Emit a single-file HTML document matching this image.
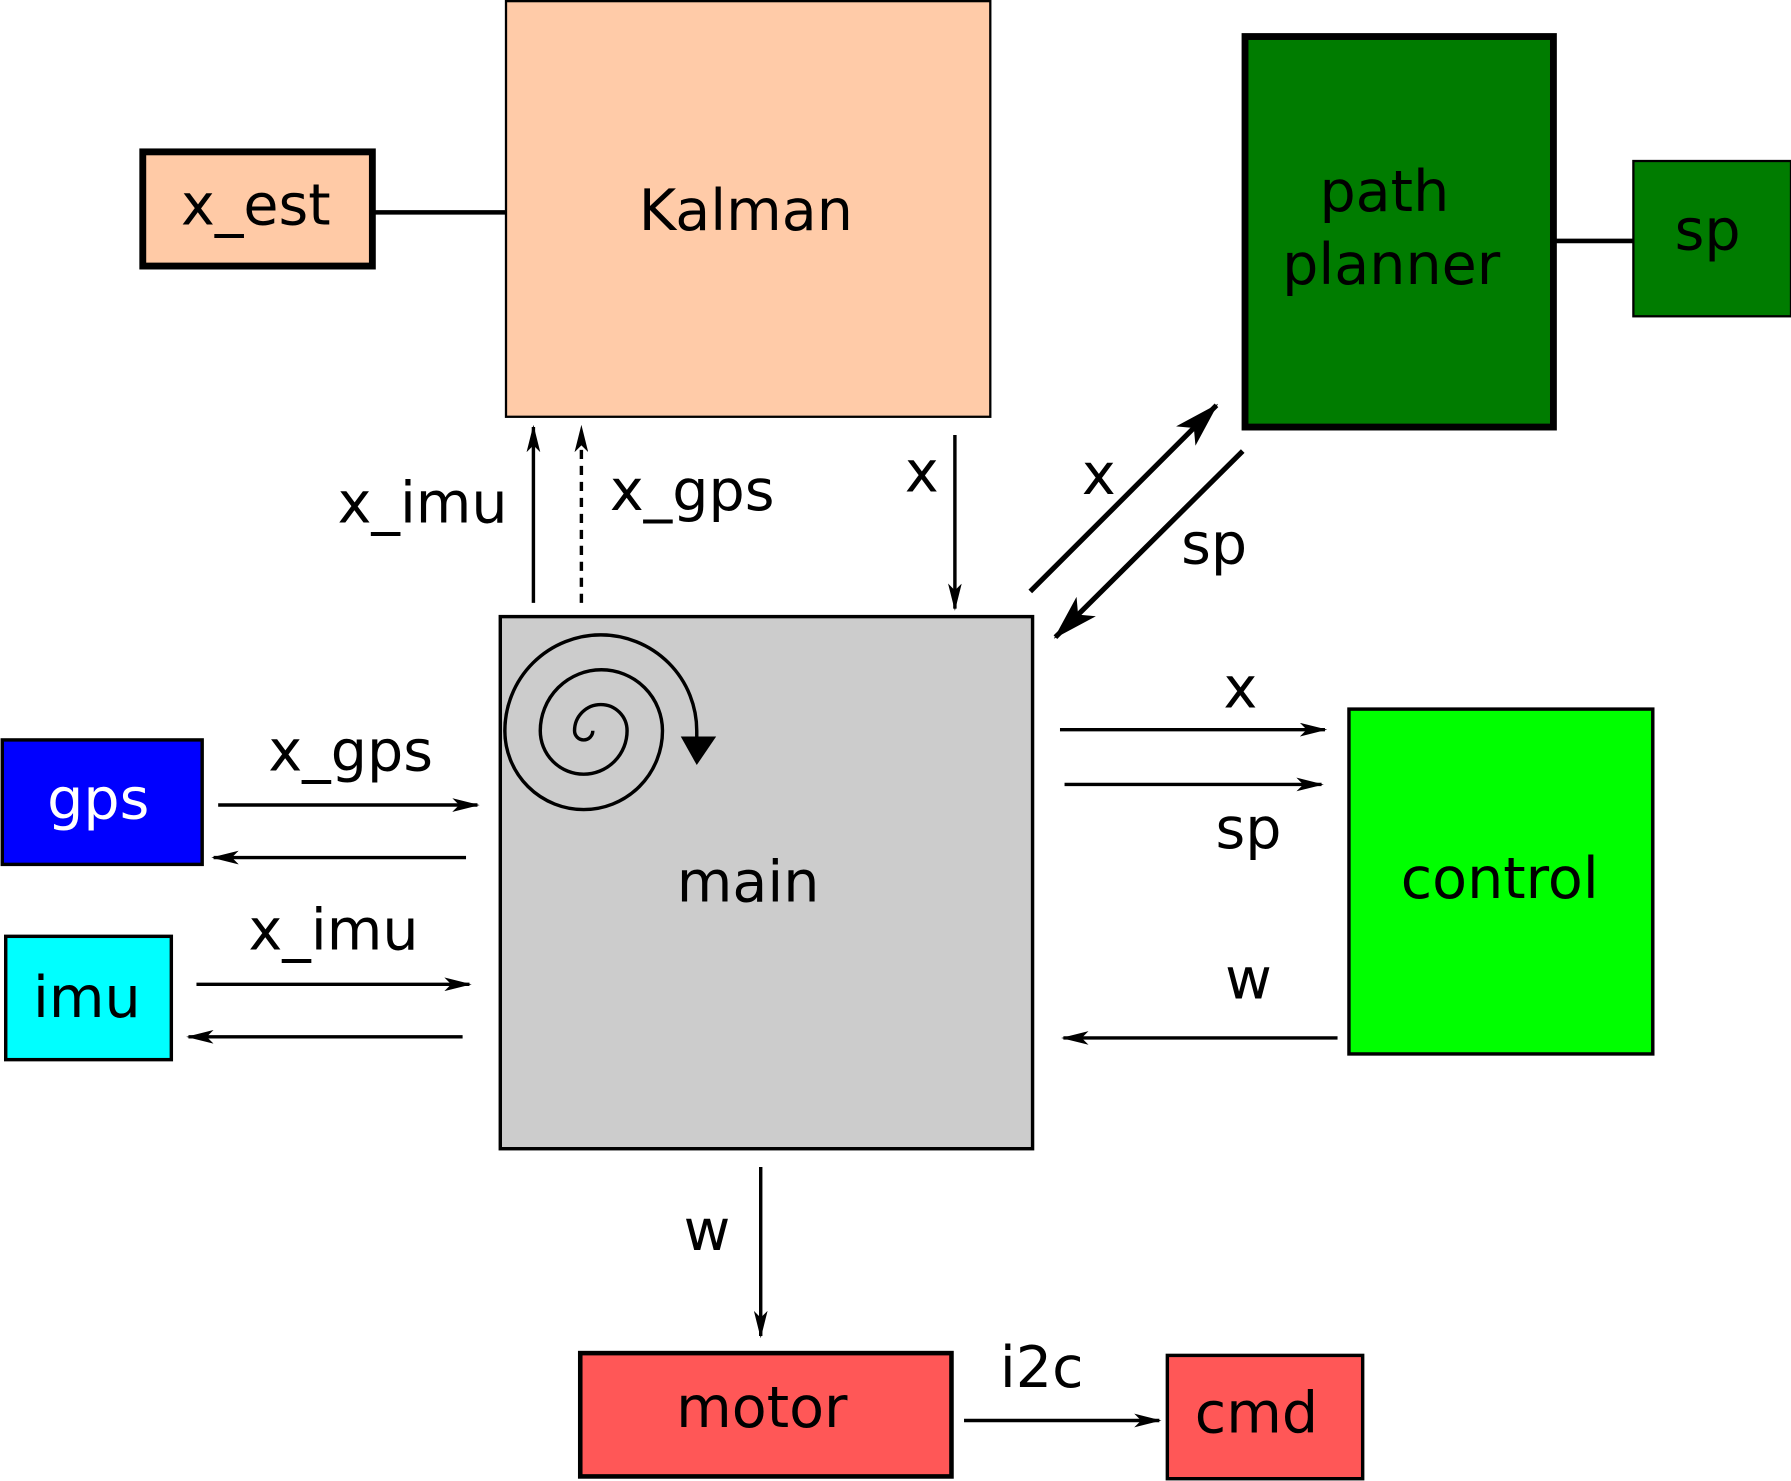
<!DOCTYPE html>
<html><head><meta charset="utf-8"><style>
html,body{margin:0;padding:0;background:#fff;}
svg{display:block;}
text{font-family:"DejaVu Sans","Liberation Sans",sans-serif;font-size:50px;text-anchor:middle;dominant-baseline:central;fill:#000;}
</style></head><body>
<svg width="1791" height="1481" viewBox="0 0 1568 1297" preserveAspectRatio="none" xmlns="http://www.w3.org/2000/svg">
<defs>
<marker id="a" markerWidth="24" markerHeight="12" refX="22" refY="6" orient="auto" markerUnits="userSpaceOnUse">
<path d="M0,0 L24,6 L0,12 L6,6 Z" fill="#000"/></marker>
<marker id="b" markerWidth="40" markerHeight="24" refX="38" refY="12" orient="auto" markerUnits="userSpaceOnUse">
<path d="M0,0 L40,12 L0,24 L10,12 Z" fill="#000"/></marker>
</defs>
<rect x="0" y="0" width="1568" height="1297" fill="#fff"/>
<rect x="125" y="133" width="201" height="100" fill="#ffcaa6" stroke="#000" stroke-width="6"/>
<text x="224" y="180">x_est</text>
<line x1="326" y1="186" x2="443" y2="186" stroke="#000" stroke-width="4"/>
<rect x="443" y="1" width="424" height="364" fill="#ffcba8" stroke="#000" stroke-width="2"/>
<text x="653" y="185">Kalman</text>
<rect x="1090" y="32" width="270" height="342" fill="#007c00" stroke="#000" stroke-width="6"/>
<text x="1212" y="168">path</text>
<text x="1218" y="232">planner</text>
<line x1="1360" y1="211" x2="1430" y2="211" stroke="#000" stroke-width="4"/>
<rect x="1430" y="141" width="138" height="136" fill="#007c00" stroke="#000" stroke-width="2"/>
<text x="1495" y="202">sp</text>
<rect x="438" y="540" width="466" height="466" fill="#cccccc" stroke="#000" stroke-width="3"/>
<text x="655" y="773">main</text>
<path d="M519,640 A8 8 0 0 1 503,640 A23 23 0 0 1 549,640 A38 38 0 0 1 473,640 A53.5 53.5 0 0 1 580,640 A69 69 0 0 1 442,640 A84 84 0 0 1 610,640 L610,648" fill="none" stroke="#000" stroke-width="3"/>
<path d="M596,645 L627,645 L610,670 Z" fill="#000"/>
<rect x="2" y="648" width="175" height="109" fill="#0000ff" stroke="#000" stroke-width="3"/>
<text x="86" y="700" style="fill:#fff">gps</text>
<rect x="5" y="820" width="145" height="108" fill="#00ffff" stroke="#000" stroke-width="3"/>
<text x="76" y="874">imu</text>
<rect x="1181" y="621" width="266" height="302" fill="#00ff00" stroke="#000" stroke-width="3"/>
<text x="1313" y="770">control</text>
<rect x="508" y="1185" width="325" height="108" fill="#ff5757" stroke="#000" stroke-width="4"/>
<text x="667" y="1233">motor</text>
<rect x="1022" y="1187" width="171" height="108" fill="#ff5757" stroke="#000" stroke-width="3"/>
<text x="1100" y="1238">cmd</text>
<g stroke="#000" stroke-width="3" fill="none">
<line x1="467" y1="528" x2="467" y2="374" marker-end="url(#a)"/>
<line x1="509" y1="528" x2="509" y2="374" stroke-dasharray="8,6" marker-end="url(#a)"/>
<line x1="836" y1="381" x2="836" y2="533" marker-end="url(#a)"/>
<line x1="902" y1="518" x2="1065" y2="355" stroke-width="4.5" marker-end="url(#b)"/>
<line x1="1088" y1="395" x2="924" y2="558" stroke-width="4.5" marker-end="url(#b)"/>
<line x1="191" y1="705" x2="418" y2="705" marker-end="url(#a)"/>
<line x1="408" y1="751" x2="187" y2="751" marker-end="url(#a)"/>
<line x1="172" y1="862" x2="411" y2="862" marker-end="url(#a)"/>
<line x1="405" y1="908" x2="165" y2="908" marker-end="url(#a)"/>
<line x1="928" y1="639" x2="1160" y2="639" marker-end="url(#a)"/>
<line x1="932" y1="687" x2="1157" y2="687" marker-end="url(#a)"/>
<line x1="1171" y1="909" x2="931" y2="909" marker-end="url(#a)"/>
<line x1="666" y1="1022" x2="666" y2="1170" marker-end="url(#a)"/>
<line x1="844" y1="1244" x2="1015" y2="1244" marker-end="url(#a)"/>
</g>
<text x="370" y="441">x_imu</text>
<text x="606" y="430">x_gps</text>
<text x="807" y="414">x</text>
<text x="962" y="416">x</text>
<text x="1063" y="477">sp</text>
<text x="307" y="658">x_gps</text>
<text x="292" y="815">x_imu</text>
<text x="1086" y="603">x</text>
<text x="1093" y="726">sp</text>
<text x="1093" y="858">w</text>
<text x="619" y="1078">w</text>
<text x="912" y="1198">i2c</text>
</svg>
</body></html>
